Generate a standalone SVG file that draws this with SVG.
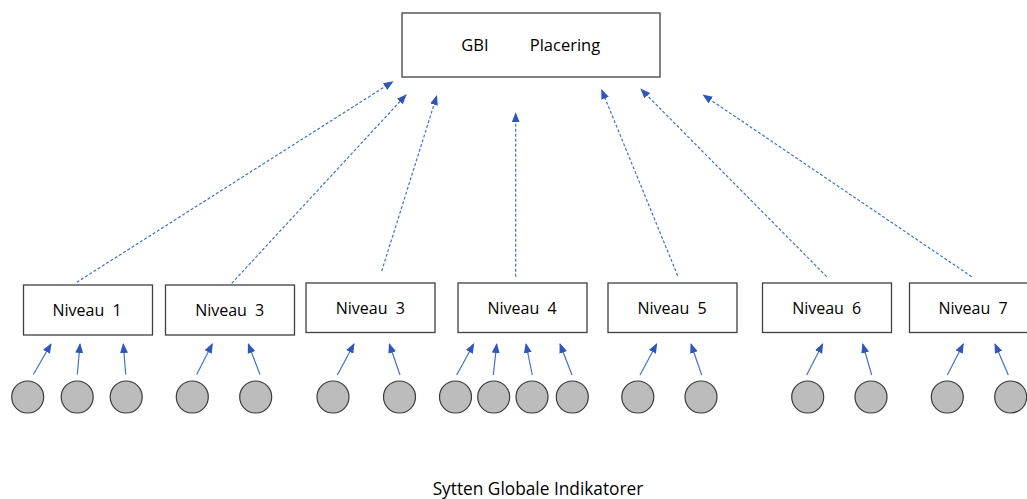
<svg xmlns="http://www.w3.org/2000/svg" width="1027" height="499" viewBox="0 0 1027 499">
<style>
.box{fill:#fff;stroke:#404040;stroke-width:1.3}
.lbl{font-family:"Open Sans","Liberation Sans",sans-serif;font-size:16px;fill:#000;text-anchor:middle;word-spacing:4px}
.dot{fill:#bcbcbc;stroke:#3a3a3a;stroke-width:1.2}
.dash{stroke:#4472c4;stroke-width:1.2;stroke-dasharray:3 2;fill:none;marker-end:url(#ah)}
.sol{stroke:#4472c4;stroke-width:1.2;fill:none;marker-end:url(#ah)}
</style>
<defs>
<marker id="ah" markerUnits="userSpaceOnUse" markerWidth="10" markerHeight="10" viewBox="0 0 10 10" refX="9" refY="5" orient="auto">
<path d="M0,1 L10,5 L0,9 Z" fill="#2f56b8"/>
</marker>
</defs>
<rect width="1027" height="499" fill="#fff"/>
<g id="gbi">
<rect class="box" x="402" y="13" width="258" height="64"/>
<text class="lbl" x="475" y="51" style="font-size:16.5px">GBI</text>
<text class="lbl" x="565" y="51" style="font-size:16.5px">Placering</text>
</g>
<g id="niveau1"><rect class="box" x="23.5" y="285" width="129" height="50"/><text class="lbl" x="87" y="316">Niveau 1</text></g>
<g id="niveau3a"><rect class="box" x="165.5" y="285" width="129" height="50"/><text class="lbl" x="229.7" y="316">Niveau 3</text></g>
<g id="niveau3b"><rect class="box" x="306" y="283" width="129" height="49.5"/><text class="lbl" x="370.3" y="314">Niveau 3</text></g>
<g id="niveau4"><rect class="box" x="458" y="283" width="129" height="49.5"/><text class="lbl" x="522" y="314">Niveau 4</text></g>
<g id="niveau5"><rect class="box" x="608" y="283" width="129" height="49.5"/><text class="lbl" x="672" y="314">Niveau 5</text></g>
<g id="niveau6"><rect class="box" x="762.5" y="283" width="129" height="49.5"/><text class="lbl" x="826.7" y="314">Niveau 6</text></g>
<g id="niveau7"><rect class="box" x="909.5" y="283" width="129" height="49.5"/><text class="lbl" x="973" y="314">Niveau 7</text></g>
<g id="indicators">
<circle class="dot" cx="27.7" cy="397" r="16"/>
<circle class="dot" cx="77.2" cy="397" r="16"/>
<circle class="dot" cx="126.2" cy="397" r="16"/>
<circle class="dot" cx="192.3" cy="397" r="16"/>
<circle class="dot" cx="255.7" cy="397" r="16"/>
<circle class="dot" cx="333" cy="397" r="16"/>
<circle class="dot" cx="399.5" cy="397" r="16"/>
<circle class="dot" cx="455.5" cy="397" r="16"/>
<circle class="dot" cx="493.7" cy="397" r="16"/>
<circle class="dot" cx="532" cy="397" r="16"/>
<circle class="dot" cx="572.3" cy="397" r="16"/>
<circle class="dot" cx="637.8" cy="397" r="16"/>
<circle class="dot" cx="701" cy="397" r="16"/>
<circle class="dot" cx="807.7" cy="397" r="16"/>
<circle class="dot" cx="871" cy="397" r="16"/>
<circle class="dot" cx="947.3" cy="397" r="16"/>
<circle class="dot" cx="1010.7" cy="397" r="16"/>
</g>
<g id="connectors">
<line class="dash" x1="76.7" y1="282.3" x2="392.7" y2="81.7"/>
<line class="dash" x1="231.7" y1="283.3" x2="406" y2="95"/>
<line class="dash" x1="381.7" y1="271" x2="436.7" y2="96"/>
<line class="dash" x1="515.7" y1="276.7" x2="515.7" y2="113.3"/>
<line class="dash" x1="677.7" y1="275.7" x2="601.7" y2="90"/>
<line class="dash" x1="826.7" y1="276.7" x2="641" y2="89.3"/>
<line class="dash" x1="971.7" y1="276.7" x2="703.3" y2="95"/>
<line class="sol" x1="33.3" y1="374.5" x2="51" y2="344"/>
<line class="sol" x1="77.3" y1="374.5" x2="80" y2="344"/>
<line class="sol" x1="125.7" y1="374.5" x2="123.3" y2="344"/>
<line class="sol" x1="196.7" y1="374.5" x2="212.3" y2="344"/>
<line class="sol" x1="260" y1="374.5" x2="248.3" y2="344"/>
<line class="sol" x1="337.3" y1="375" x2="354" y2="344"/>
<line class="sol" x1="400" y1="375" x2="389.3" y2="344"/>
<line class="sol" x1="456.7" y1="375" x2="473.7" y2="344"/>
<line class="sol" x1="493.3" y1="375" x2="496.7" y2="344"/>
<line class="sol" x1="532.3" y1="375" x2="526" y2="344"/>
<line class="sol" x1="572" y1="375" x2="560" y2="344"/>
<line class="sol" x1="640" y1="375" x2="656.7" y2="344"/>
<line class="sol" x1="701.7" y1="375" x2="691" y2="344"/>
<line class="sol" x1="806.7" y1="375" x2="822.7" y2="344"/>
<line class="sol" x1="871.7" y1="375" x2="862.7" y2="344"/>
<line class="sol" x1="947.3" y1="375" x2="963.3" y2="344"/>
<line class="sol" x1="1008.3" y1="375" x2="995" y2="344"/>
</g>
<text x="538" y="494.5" style="font-family:'Open Sans','Liberation Sans',sans-serif;font-size:17.3px;text-anchor:middle;fill:#000">Sytten Globale Indikatorer</text>
</svg>
